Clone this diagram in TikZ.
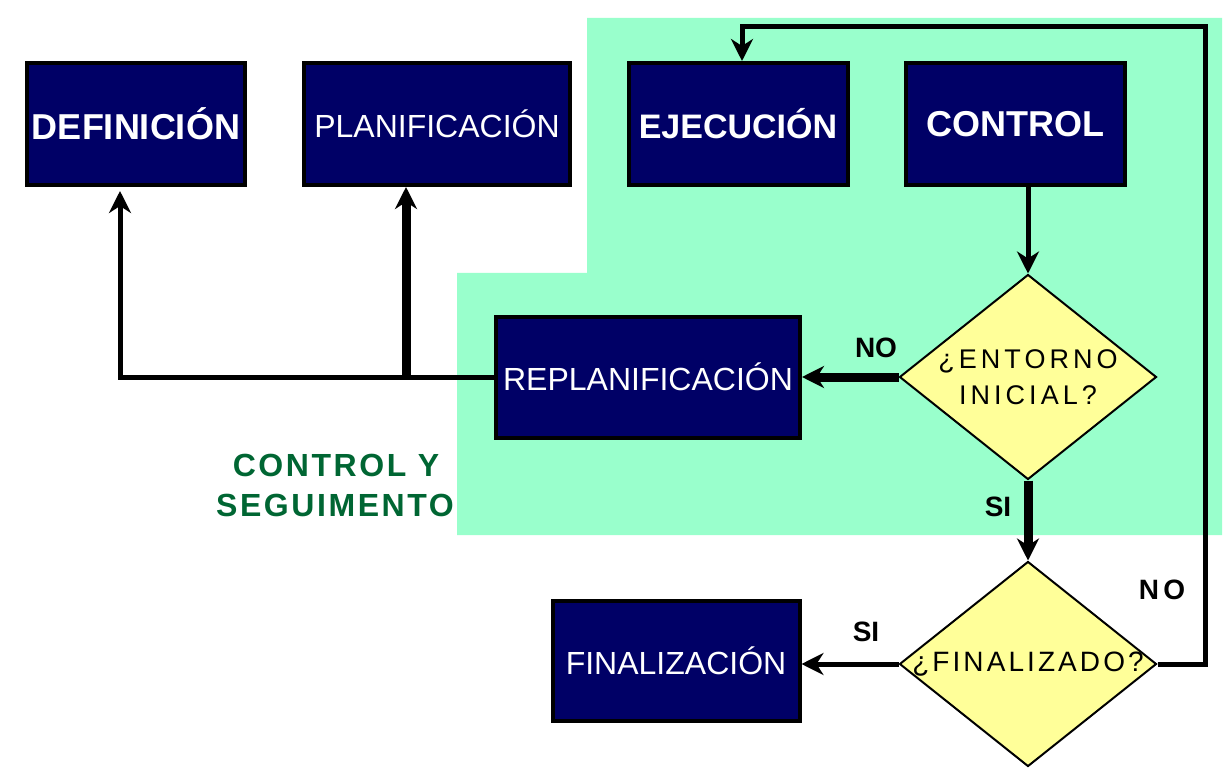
\documentclass[tikz,border=0pt]{standalone}
\usepackage{fontspec}
\setmainfont{Liberation Sans}
\usetikzlibrary{arrows.meta,shapes.geometric,positioning}
\definecolor{azulfase}{RGB}{0,0,102}
\definecolor{verdefondo}{RGB}{153,255,204}
\definecolor{amarillo}{RGB}{255,255,153}
\definecolor{verdetexto}{RGB}{0,102,51}

\begin{document}
\begin{tikzpicture}[x=1pt, y=-1pt,
    fase/.style 2 args={draw=black, line width=4pt, fill=azulfase, text=white,
      inner sep=0pt, minimum width=#1, minimum height=#2},
    decision/.style={diamond, draw=black, line width=2pt, fill=amarillo,
      inner sep=0pt, minimum width=257pt, minimum height=205pt},
    pregunta/.style={align=center, inner sep=0pt},
    flecha/.style={draw=black, line width=5pt, -{Stealth[length=22pt,width=22pt,inset=7pt]}},
    gruesa/.style={flecha, line width=9pt},
    etiqueta/.style={font=\fontsize{28}{30}\selectfont\bfseries},
    fuerte/.style={font=\fontsize{36}{40}\selectfont\bfseries},
    normal/.style={font=\fontsize{32}{36}\selectfont}]
  \useasboundingbox[fill=white] (0,0) rectangle (1224,770);
  % zona de control y seguimiento
  \fill[verdefondo] (587,18) -- (1222,18) -- (1222,535) -- (457,535) -- (457,273) -- (587,273) -- cycle;

  \node[fase={218pt}{122pt}, fuerte] (definicion) at (136,124) {DEFINICIÓN};
  \node[fase={266pt}{122pt}, normal] (planificacion) at (437,124) {PLANIFICACIÓN};
  \node[fase={219pt}{122pt}, font=\fontsize{34}{38}\selectfont\bfseries] (ejecucion) at (738,124) {EJECUCIÓN};
  \node[fase={219pt}{122pt}, fuerte] (control) at (1015,124) {CONTROL};
  \node[fase={304pt}{121pt}, normal] (replanificacion) at (648,377) {REPLANIFICACIÓN};
  \node[fase={247pt}{120pt}, normal] (finalizacion) at (676,661) {FINALIZACIÓN};

  \node[decision, label={[pregunta, font=\fontsize{27}{36}\selectfont\addfontfeature{LetterSpace=15}]center:{¿ENTORNO\\INICIAL?}}] (entorno) at (1028,377) {};
  \node[decision, label={[pregunta, font=\fontsize{28}{32}\selectfont\addfontfeature{LetterSpace=11}]center:{¿FINALIZADO?}}] (finalizado) at (1028,664) {};

  \coordinate (codo) at ([xshift=-16pt]definicion.south |- replanificacion.west);
  \coordinate (rama) at ([xshift=-31pt]planificacion.south |- replanificacion.west);
  \coordinate (esquina) at (1205,27);

  \draw[flecha] (control.south -| entorno.north) -- (entorno.north);
  \draw[gruesa] (entorno.west) -- (replanificacion.east);
  \draw[gruesa] (entorno.south) -- (finalizado.north);
  \draw[flecha] (finalizado.west) -- (finalizado.west -| finalizacion.east);
  \draw[flecha] (finalizado.east) -| (esquina) -| ([xshift=4pt]ejecucion.north);
  \draw[flecha] (replanificacion.west) -- (codo) -- ([yshift=-4pt]codo |- definicion.south);
  \draw[gruesa] (rama) -- (rama |- planificacion.south);

  \node[etiqueta] (noentorno) at (876,348) {NO};
  \node[etiqueta] (sientorno) at (998,507) {SI};
  \node[etiqueta] (sifinal) at (866,632) {SI};
  \node[etiqueta, font=\fontsize{28}{30}\selectfont\bfseries\addfontfeature{LetterSpace=15}] (nofinal) at (1162,590) {NO};

  \node[text=verdetexto, font=\fontsize{32}{36}\selectfont\bfseries\addfontfeature{LetterSpace=8}] (zona1) at (336,465) {CONTROL Y};
  \node[text=verdetexto, font=\fontsize{32}{36}\selectfont\bfseries\addfontfeature{LetterSpace=8}] (zona2) at (335,505) {SEGUIMENTO};
\end{tikzpicture}
\end{document}
